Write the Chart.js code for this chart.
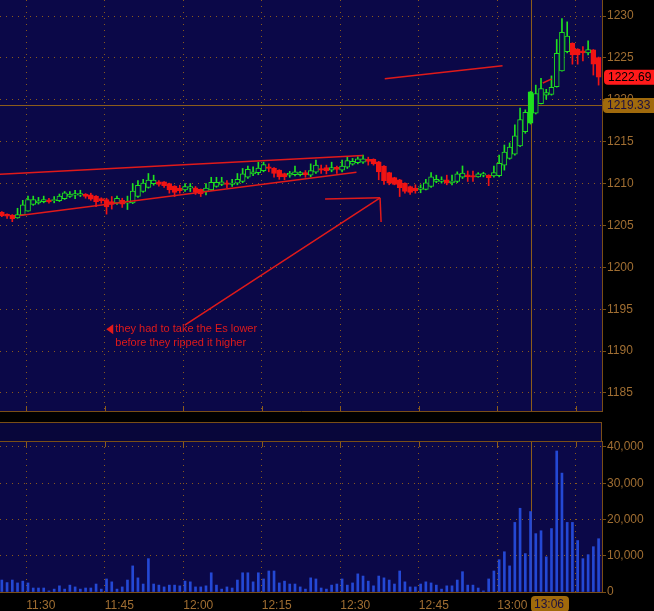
<!DOCTYPE html>
<html>
<head>
<meta charset="utf-8">
<script src="https://cdn.jsdelivr.net/npm/chart.js@4"></script>
<style>
html, body { margin: 0; padding: 0; background: #000; width: 654px; height: 611px; overflow: hidden; }
#price { position: absolute; left: 0; top: 0; z-index: 1; }
#band { position: absolute; left: 0; top: 422px; width: 601px; height: 18px; background: #08063a;
        border: 1px solid #7a4e16; border-left: none; z-index: 2; }
#vol { position: absolute; left: 0; top: 441px; z-index: 1; }
</style>
</head>
<body>
<canvas id="price" width="654" height="412"></canvas>
<div id="band"></div>
<canvas id="vol" width="654" height="170"></canvas>
<script>
// one-minute bars, first one at 11:25 (x values are minutes after 11:00)
const firstBar = 25;
const timeTicks = [30, 45, 60, 75, 90, 105, 120, 135];
const timeLabels = ['11:30', '11:45', '12:00', '12:15', '12:30', '12:45', '13:00', ''];
const priceTicks = [1185, 1190, 1195, 1200, 1205, 1210, 1215, 1220, 1225, 1230];
const volumeTicks = [0, 10000, 20000, 30000, 40000];

const open = [
  1206.6, 1206.35, 1206.25, 1205.9, 1206.25, 1206.7, 1207.5, 1207.7, 1207.85, 1208.05,
  1207.95, 1207.95, 1208.2, 1208.45, 1208.6, 1208.6, 1208.75, 1208.65, 1208.5, 1208.2,
  1208.1, 1207.85, 1207.65, 1208.0, 1207.65, 1207.7, 1208.45, 1209.05, 1209.55, 1210.0,
  1210.2, 1210.2, 1210.0, 1209.7, 1209.45, 1209.25, 1209.45, 1209.5, 1209.3, 1209.05,
  1209.25, 1209.65, 1209.9, 1210.1, 1209.9, 1210.05, 1210.25, 1210.75, 1211.15, 1211.3,
  1211.55, 1212.0, 1211.85, 1211.6, 1211.2, 1211.0, 1211.05, 1211.05, 1211.3, 1211.0,
  1211.35, 1211.8, 1211.9, 1211.6, 1211.95, 1211.6, 1211.95, 1212.3, 1212.5, 1212.55,
  1212.9, 1212.9, 1212.6, 1212.1, 1211.3, 1210.7, 1210.45, 1210.05, 1209.65, 1209.45,
  1209.3, 1209.3, 1209.65, 1210.25, 1210.25, 1210.45, 1210.1, 1210.25, 1210.75, 1211.05,
  1210.95, 1210.8, 1211.0, 1211.0, 1210.9, 1210.95, 1212.2, 1213.0, 1213.5, 1214.5,
  1216.2, 1217.2, 1218.4, 1219.55, 1220.55, 1220.65, 1221.55, 1223.45, 1225.75, 1226.75,
  1226.05, 1225.85, 1225.6, 1225.95, 1225.05
];
const high = [
  1206.65, 1206.4, 1206.3, 1207.05, 1208.0, 1208.5, 1208.5, 1208.35, 1208.5, 1208.25,
  1208.45, 1208.75, 1209.05, 1209.05, 1209.2, 1209.2, 1208.8, 1208.85, 1208.55, 1208.3,
  1208.25, 1208.45, 1208.5, 1208.25, 1208.5, 1210.0, 1210.35, 1210.5, 1211.2, 1211.0,
  1210.35, 1210.25, 1210.05, 1209.75, 1209.8, 1210.0, 1210.0, 1209.65, 1209.35, 1210.0,
  1210.75, 1210.75, 1210.75, 1210.35, 1210.5, 1211.2, 1211.8, 1212.1, 1212.0, 1212.55,
  1212.55, 1212.35, 1211.9, 1211.65, 1211.25, 1211.45, 1212.1, 1211.45, 1211.55, 1212.35,
  1212.8, 1212.2, 1212.2, 1212.55, 1212.1, 1212.8, 1213.15, 1213.0, 1213.2, 1213.4,
  1213.15, 1212.95, 1212.65, 1212.15, 1211.35, 1210.75, 1210.5, 1210.1, 1209.7, 1209.85,
  1209.85, 1210.5, 1211.3, 1211.0, 1210.8, 1211.0, 1211.0, 1211.4, 1212.1, 1211.5,
  1211.5, 1211.3, 1211.35, 1211.05, 1212.1, 1213.4, 1214.6, 1214.85, 1217.0, 1219.0,
  1218.8, 1221.0, 1221.75, 1222.55, 1221.25, 1222.85, 1227.2, 1229.7, 1229.3, 1226.8,
  1226.1, 1226.35, 1227.05, 1226.0, 1225.1
];
const low = [
  1206.05, 1205.85, 1205.45, 1205.85, 1206.2, 1206.7, 1207.4, 1207.55, 1207.7, 1207.65,
  1207.7, 1207.85, 1208.1, 1208.35, 1208.2, 1208.45, 1208.25, 1208.0, 1207.25, 1207.65,
  1206.35, 1206.95, 1207.5, 1207.15, 1206.9, 1207.6, 1208.35, 1208.95, 1209.45, 1209.8,
  1209.7, 1209.55, 1208.85, 1208.45, 1208.85, 1209.05, 1209.05, 1208.7, 1208.45, 1208.65,
  1209.15, 1209.55, 1209.75, 1209.5, 1209.65, 1209.85, 1210.1, 1210.6, 1210.95, 1211.05,
  1211.4, 1211.4, 1210.75, 1210.5, 1210.45, 1210.75, 1210.9, 1210.9, 1210.75, 1210.8,
  1211.2, 1211.2, 1211.15, 1211.4, 1211.2, 1211.4, 1211.8, 1212.2, 1212.35, 1212.4,
  1212.2, 1212.2, 1210.45, 1209.9, 1209.85, 1209.85, 1208.45, 1208.85, 1208.7, 1208.85,
  1208.9, 1209.25, 1209.55, 1210.1, 1210.05, 1209.85, 1209.85, 1210.1, 1210.6, 1210.25,
  1210.25, 1210.75, 1210.8, 1209.75, 1210.75, 1210.8, 1211.6, 1212.9, 1213.4, 1214.4,
  1216.0, 1217.1, 1218.3, 1219.5, 1220.05, 1220.55, 1221.5, 1223.4, 1225.6, 1224.25,
  1224.25, 1224.65, 1225.35, 1222.95, 1221.75
];
const close = [
  1206.15, 1206.1, 1205.8, 1206.3, 1207.45, 1208.1, 1208.1, 1207.95, 1208.1, 1207.8,
  1208.1, 1208.5, 1208.9, 1208.75, 1208.8, 1208.8, 1208.45, 1208.15, 1207.85, 1207.95,
  1207.2, 1207.5, 1208.25, 1207.55, 1207.85, 1209.1, 1209.8, 1210.05, 1210.4, 1210.4,
  1209.9, 1209.75, 1209.25, 1208.95, 1209.15, 1209.65, 1209.65, 1208.95, 1208.75, 1209.45,
  1210.15, 1210.15, 1210.2, 1209.9, 1210.05, 1210.5, 1211.15, 1211.7, 1211.4, 1211.85,
  1212.25, 1211.8, 1211.2, 1210.8, 1210.8, 1211.25, 1211.4, 1211.3, 1211.05, 1211.55,
  1212.2, 1211.6, 1211.55, 1211.9, 1211.7, 1212.1, 1212.75, 1212.65, 1212.95, 1212.95,
  1212.65, 1212.35, 1211.4, 1210.35, 1210.05, 1209.9, 1209.5, 1209.05, 1208.95, 1209.15,
  1209.5, 1210.1, 1210.8, 1210.5, 1210.45, 1210.05, 1210.3, 1211.15, 1211.25, 1210.8,
  1210.75, 1211.15, 1211.2, 1210.7, 1211.3, 1212.4, 1213.75, 1214.35, 1215.7, 1217.65,
  1218.5, 1220.95, 1220.75, 1221.35, 1220.85, 1221.5, 1225.55, 1228.05, 1227.6, 1225.35,
  1225.35, 1225.6, 1226.0, 1224.25, 1222.69
];
const volume = [
  3300, 2600, 3300, 2500, 3000, 2500, 1100, 1100, 1100, 300,
  800, 1700, 800, 1900, 1400, 800, 1100, 1100, 2200, 800,
  3600, 2800, 800, 1400, 3300, 7200, 3900, 2200, 9200, 2200,
  1900, 1400, 1900, 1900, 1700, 3000, 2800, 1400, 1400, 1700,
  5300, 1900, 800, 1400, 1100, 3300, 5300, 5300, 2800, 5300,
  3600, 5800, 5800, 2500, 3000, 2200, 2200, 1400, 800, 3900,
  3600, 1100, 800, 1900, 2200, 3600, 1900, 2500, 5000, 4400,
  3000, 1700, 4400, 3900, 3300, 2200, 5800, 2800, 1400, 1400,
  2200, 2800, 2500, 1900, 800, 1700, 1700, 3300, 5600, 1900,
  1900, 1100, 300, 3600, 5800, 8900, 11100, 7200, 19200, 23100,
  10600, 22200, 16100, 16900, 9700, 17500, 38900, 32800, 19200, 19200,
  14200, 9200, 10300, 12500, 14700
];

const lastPrice = 1222.69;
const crossPrice = 1219.33;
const crossBar = 101;   // 13:06

// hand-drawn red lines, [minutes after 11:00, price]
const trendLines = [
  [[25.0, 1211.1], [94.3, 1213.35]],
  [[28.8, 1206.2], [93.1, 1211.35]],
  [[98.5, 1222.5], [121.0, 1224.05]],
  [[128.7, 1222.0], [130.4, 1222.5]],
  [[87.1, 1208.15], [97.6, 1208.3]],
  [[97.6, 1208.3], [97.8, 1205.4]],
  [[97.6, 1208.3], [60.3, 1193.1]]
];
const note = ['they had to take the Es lower', 'before they ripped it higher'];
const noteAt = [45.3, 1192.6];

const navy = '#0b0848', dots = '#8a5a1c', rule = '#7a4e16', ink = '#a06e32';
const hair = '#8c5c1a';
const upCol = '#1fe01f', downCol = '#f01414', pen = '#e01a1a', blue = '#2448d4';

Chart.defaults.font.family = '"Liberation Sans", sans-serif';
Chart.defaults.font.size = 12;

const xs = open.map((o, i) => firstBar + i + 0.35);
const isUp = open.map((o, i) => close[i] >= o);
const fmt = m => (11 + Math.floor(m / 60)) + ':' + String(m % 60).padStart(2, '0');

function tag(ctx, x, yc, w, bg, fg, text) {
  ctx.fillStyle = bg;
  ctx.beginPath();
  ctx.roundRect(x, yc - 7.5, w, 15, 4);
  ctx.fill();
  ctx.fillStyle = fg;
  ctx.font = '12px "Liberation Sans"';
  ctx.textBaseline = 'middle';
  ctx.textAlign = 'left';
  ctx.fillText(text, x + 4, yc + 0.5);
}

const mainDeco = {
  id: 'mainDeco',
  beforeDraw(c) {
    const a = c.chartArea;
    c.ctx.fillStyle = navy;
    c.ctx.fillRect(a.left, a.top, a.width, a.height);
  },
  beforeDatasetsDraw(c) {
    const {ctx, chartArea: a, scales: {x, y}} = c;
    const cx = Math.round(x.getPixelForValue(xs[crossBar])) + 0.5;
    const cy = Math.round(y.getPixelForValue(crossPrice)) + 0.5;
    ctx.save();
    ctx.setLineDash([]);
    ctx.globalAlpha = 1;
    ctx.strokeStyle = hair;
    ctx.lineWidth = 1;
    ctx.beginPath();
    ctx.moveTo(cx, a.top); ctx.lineTo(cx, a.bottom);
    ctx.moveTo(a.left, cy); ctx.lineTo(a.right, cy);
    timeTicks.forEach(t => {
      const px = Math.round(x.getPixelForValue(t)) + 0.5;
      ctx.moveTo(px, a.bottom - 5); ctx.lineTo(px, a.bottom);
    });
    ctx.stroke();
    ctx.restore();
  },
  afterDraw(c) {
    const {ctx, scales: {x, y}} = c;
    ctx.save();
    const nx = x.getPixelForValue(noteAt[0]), ny = y.getPixelForValue(noteAt[1]);
    ctx.fillStyle = pen;
    ctx.beginPath();
    ctx.moveTo(nx, ny); ctx.lineTo(nx + 7, ny - 5); ctx.lineTo(nx + 7, ny + 5);
    ctx.closePath();
    ctx.fill();
    ctx.font = '11px "Liberation Sans"';
    ctx.textBaseline = 'middle';
    note.forEach((t, k) => ctx.fillText(t, nx + 9, ny + k * 14));
    tag(ctx, 604, y.getPixelForValue(lastPrice), 60, '#ff1a1a', '#000', lastPrice.toFixed(2));
    tag(ctx, 603, y.getPixelForValue(crossPrice), 60, '#a06a0c', '#1c1040', crossPrice.toFixed(2));
    ctx.restore();
  }
};

new Chart(document.getElementById('price'), {
  type: 'bar',
  data: {
    datasets: [
      {
        data: xs.map((x, i) => ({x, y: [open[i], close[i]]})),
        backgroundColor: xs.map((x, i) => i === crossBar ? upCol : (isUp[i] ? navy : downCol)),
        borderColor: isUp.map(u => u ? upCol : downCol),
        borderWidth: 1, borderSkipped: false, barThickness: 5, minBarLength: 1,
        grouped: false, order: 1
      },
      {
        data: xs.map((x, i) => ({x, y: [low[i], high[i]]})),
        backgroundColor: isUp.map(u => u ? upCol : downCol),
        barThickness: 1, grouped: false, order: 2
      },
      ...trendLines.map(seg => ({
        type: 'line',
        data: seg.map(([x, y]) => ({x, y})),
        borderColor: pen, borderWidth: 1.5, pointRadius: 0, order: 0
      }))
    ]
  },
  options: {
    responsive: false,
    animation: false,
    events: [],
    layout: {padding: 0},
    plugins: {legend: {display: false}, tooltip: {enabled: false}},
    scales: {
      x: {
        type: 'linear', min: 25, max: 140, offset: false,
        afterBuildTicks: s => { s.ticks = timeTicks.map(v => ({value: v})); },
        afterFit: s => { s.height = 1; s.paddingLeft = 0; s.paddingRight = 0; },
        ticks: {display: false},
        grid: {color: dots, drawTicks: false, offset: false},
        border: {display: true, color: rule, dash: [1, 5]}
      },
      y: {
        position: 'right', min: 1182.85, max: 1231.91,
        afterBuildTicks: s => { s.ticks = priceTicks.map(v => ({value: v})); },
        afterFit: s => { s.width = 52; s.paddingTop = 0; s.paddingBottom = 0; },
        ticks: {color: ink, padding: 1, callback: v => String(v)},
        grid: {color: dots, tickColor: rule, tickLength: 4},
        border: {display: true, color: rule, dash: [1, 5]}
      }
    }
  },
  plugins: [mainDeco]
});

const volDeco = {
  id: 'volDeco',
  beforeDraw(c) {
    const a = c.chartArea;
    c.ctx.fillStyle = navy;
    c.ctx.fillRect(a.left, a.top, a.width, a.height);
  },
  beforeDatasetsDraw(c) {
    const {ctx, chartArea: a, scales: {x}} = c;
    const cx = Math.round(x.getPixelForValue(xs[crossBar])) + 0.5;
    ctx.save();
    ctx.setLineDash([]);
    ctx.strokeStyle = hair;
    ctx.lineWidth = 1;
    ctx.beginPath();
    ctx.moveTo(cx, a.top); ctx.lineTo(cx, a.bottom);
    timeTicks.forEach(t => {
      const px = Math.round(x.getPixelForValue(t)) + 0.5;
      ctx.moveTo(px, a.top); ctx.lineTo(px, a.top + 6);
    });
    ctx.stroke();
    ctx.restore();
  },
  afterDraw(c) {
    const {ctx, chartArea: a, scales: {x}} = c;
    const cx = Math.round(x.getPixelForValue(xs[crossBar]));
    ctx.save();
    ctx.fillStyle = '#a06a0c';
    ctx.beginPath();
    ctx.roundRect(cx, a.bottom + 4, 38, 16, 4);
    ctx.fill();
    ctx.fillStyle = '#1c1040';
    ctx.font = '12px "Liberation Sans"';
    ctx.textBaseline = 'middle';
    ctx.fillText(fmt(firstBar + crossBar), cx + 3, a.bottom + 12.5);
    ctx.restore();
  }
};

new Chart(document.getElementById('vol'), {
  type: 'bar',
  data: {
    datasets: [{
      data: xs.map((x, i) => ({x, y: volume[i]})),
      backgroundColor: blue,
      barThickness: 2
    }]
  },
  options: {
    responsive: false,
    animation: false,
    events: [],
    layout: {padding: 0},
    plugins: {legend: {display: false}, tooltip: {enabled: false}},
    scales: {
      x: {
        type: 'linear', min: 25, max: 140, offset: false,
        afterBuildTicks: s => { s.ticks = timeTicks.map(v => ({value: v})); },
        afterFit: s => { s.height = 19; s.paddingLeft = 0; s.paddingRight = 0; },
        ticks: {color: ink, align: 'start', padding: 6, maxRotation: 0, autoSkip: false,
                callback: (v, i) => timeLabels[i]},
        grid: {color: dots, drawTicks: false, offset: false},
        border: {display: true, color: rule, dash: [1, 5]}
      },
      y: {
        position: 'right', min: 0, max: 41655,
        afterBuildTicks: s => { s.ticks = volumeTicks.map(v => ({value: v})); },
        afterFit: s => { s.width = 52; s.paddingTop = 0; s.paddingBottom = 0; },
        ticks: {color: ink, padding: 1, callback: v => v.toLocaleString('en-US')},
        grid: {color: dots, tickColor: rule, tickLength: 4},
        border: {display: true, color: rule, dash: [1, 5]}
      }
    }
  },
  plugins: [volDeco]
});
</script>
</body>
</html>
